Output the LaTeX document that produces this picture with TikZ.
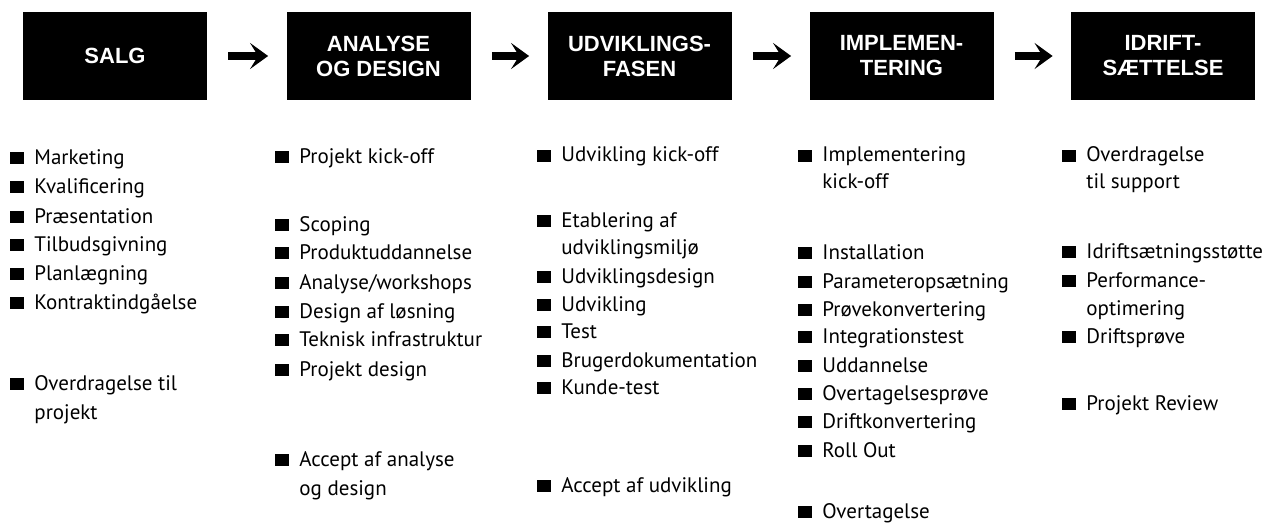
\documentclass[tikz,border=0pt]{standalone}
\usepackage{fontspec}
\setmainfont{PT Sans}
\newfontfamily\boxfont{Liberation Sans}
\usepackage{tikz}
\usetikzlibrary{arrows.meta}
\usetikzlibrary{positioning}

\begin{document}
\begin{tikzpicture}[x=0.5pt,y=-0.5pt]
  % Define overall style for the chart
  \tikzset{
    phase/.style={
      fill=black,
      minimum width=92pt,
      minimum height=44pt,
      inner sep=0pt,
      align=center,
      text=white,
      font=\boxfont\bfseries\fontsize{11}{12.5}\selectfont
    },
    flow/.style={
      draw=black,
      line width=4pt,
      -{Stealth[length=9pt, width=13pt, inset=4pt]},
      shorten <=10.5pt,
      shorten >=9pt
    },
    item/.style={
      anchor=mid west,
      inner sep=0pt,
      font=\fontsize{10.5}{12}\selectfont
    }
  }
  \newcommand{\bul}{\rule{7pt}{6pt}\hspace{5pt}}

  \useasboundingbox (0,0) rectangle (1274,524);

  % Create the phase boxes in one row
  \node[phase] (salg) at (115,56) {SALG};
  \node[phase] (analyse) at (378.5,56) {ANALYSE\\OG DESIGN};
  \node[phase] (udv) at (639.5,56) {UDVIKLINGS-\\FASEN};
  \node[phase] (impl) at (901.5,56) {IMPLEMEN-\\TERING};
  \node[phase] (idrift) at (1163,56) {IDRIFT-\\S\AE TTELSE};

  % Draw the arrows between phases
  \foreach \a/\b in {salg/analyse, analyse/udv, udv/impl, impl/idrift}
    \draw[flow] (\a) -- (\b);

  % Activities below each phase
  \foreach \y/\t [count=\i] in {159/Marketing, 188/Kvalificering,
      218/Pr{\ae}sentation, 246/Tilbudsgivning, 275/Planl{\ae}gning,
      304/Kontraktindg{\aa}else, 385/Overdragelse til}
    \node[item] (s\i) at (10,\y) {\bul\t};
  \node[item] (s8) at (34,414) {projekt};

  \foreach \y/\t [count=\i] in {158/Projekt kick-off, 226/Scoping,
      254/Produktuddannelse, 284/{Analyse/workshops},
      313/Design af l{\o}sning, 341/Teknisk infrastruktur,
      371/Projekt design, 461/Accept af analyse}
    \node[item] (a\i) at (275,\y) {\bul\t};
  \node[item] (a9) at (299,490) {og design};

  \foreach \y/\t [count=\i] in {157/Udvikling kick-off, 222/Etablering af,
      278/Udviklingsdesign, 306/Udvikling, 333/Test,
      362/Brugerdokumentation, 389/Kunde-test, 487/Accept af udvikling}
    \node[item] (u\i) at (537,\y) {\bul\t};
  \node[item] (u9) at (561,249) {udviklingsmilj{\o}};

  \foreach \y/\t [count=\i] in {157/Implementering, 254/Installation,
      283/Parameterops{\ae}tning, 311/Pr{\o}vekonvertering,
      338/Integrationstest, 367/Uddannelse, 395/Overtagelsespr{\o}ve,
      423/Driftkonvertering, 452/Roll Out, 513/Overtagelse}
    \node[item] (m\i) at (798,\y) {\bul\t};
  \node[item] (m11) at (822,183) {kick-off};

  \foreach \y/\t [count=\i] in {157/Overdragelse,
      253/Idrifts{\ae}tningsst{\o}tte, 282/Performance-,
      338/Driftspr{\o}ve, 405/Projekt Review}
    \node[item] (d\i) at (1062,\y) {\bul\t};
  \node[item] (d6) at (1086,183) {til support};
  \node[item] (d7) at (1086,310) {optimering};
\end{tikzpicture}
\end{document}
